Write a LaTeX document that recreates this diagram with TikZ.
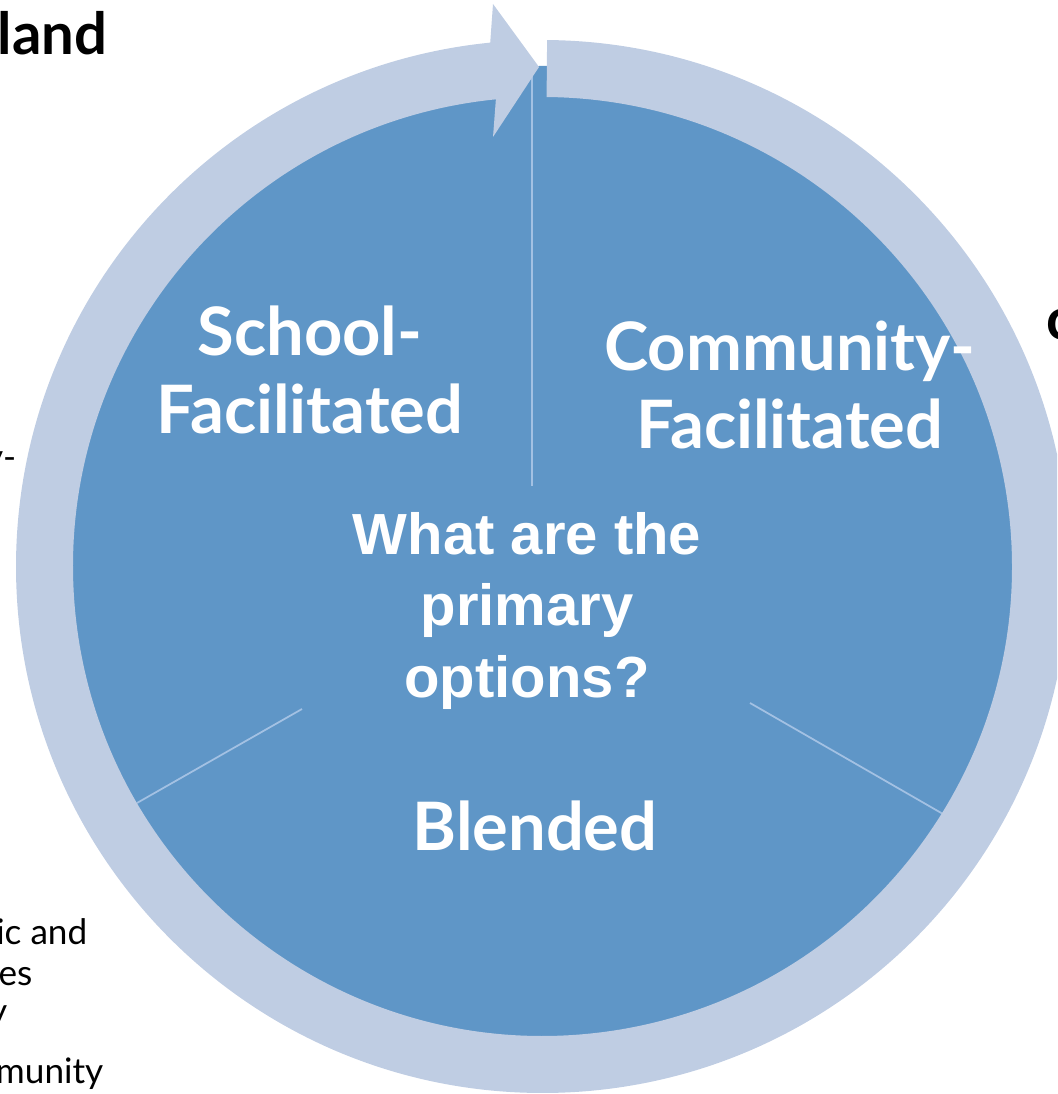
\documentclass[tikz,border=0pt]{standalone}
\usepackage{fontspec}
\setmainfont{Lato}
\newfontfamily\arialfont{Liberation Sans}
\usetikzlibrary{calc}
\definecolor{pieblue}{HTML}{5F96C7}
\definecolor{ringblue}{HTML}{BFCDE3}
\definecolor{splitblue}{HTML}{A3C1E3}

\begin{document}
\begin{tikzpicture}[x=0.01cm, y=0.01cm,
  seg/.style={text=white, align=center, inner sep=0pt,
    font=\bfseries\fontsize{19}{22.2}\selectfont},
  ask/.style={text=white, align=center, inner sep=0pt,
    font=\arialfont\bfseries\fontsize{16.5}{20.4}\selectfont},
  side/.style={text=black, inner sep=0pt, font=\fontsize{10}{11}\selectfont},
  title/.style={text=black, inner sep=0pt, font=\bfseries\fontsize{16.5}{18}\selectfont},
  split/.style={draw=splitblue, line width=0.5pt}]
  \clip (0,0) rectangle (1057,1094);
  \coordinate (c) at (542.5,527.5);

  % the three options
  \fill[pieblue] (543,528) circle[radius=500];
  \draw[split] (532,1028) -- (532,608);
  \draw[split] (137,291) -- (302,385);
  \draw[split] (943,280) -- (750,391);

  % cycle arrow round the pie
  \fill[ringblue] ($(c)+(89.5:526.5)$) arc[start angle=89.5, end angle=-264.3, radius=526.5]
    -- (493,1090) -- (539,1027) -- (493,957)
    -- ($(c)+(95.7:469.5)$) arc[start angle=95.7, end angle=449.5, radius=469.5] -- cycle;

  \node[seg] (school) at (310,724) {School-\\Facilitated};
  \node[seg] (community) at (790,709) {Community-\\Facilitated};
  \node[seg] (blended) at (535,268) {Blended};
  \node[ask] (question) at (527,483) {What are the\\primary\\options?};

  % slide text cut off at the edges
  \node[title, anchor=base east] (heading) at (108,1039) {land};
  \node[title, anchor=base west] (headright) at (1046,754) {c};
  \node[side, anchor=base east] (line0) at (17,624) {y-};
  \node[side, anchor=base east] (line1) at (88,149) {ic and};
  \node[side, anchor=base east] (line2) at (33,108) {es};
  \node[side, anchor=base east] (line3) at (8,70) {y};
  \node[side, anchor=base east] (line4) at (104,10) {munity};
\end{tikzpicture}
\end{document}
